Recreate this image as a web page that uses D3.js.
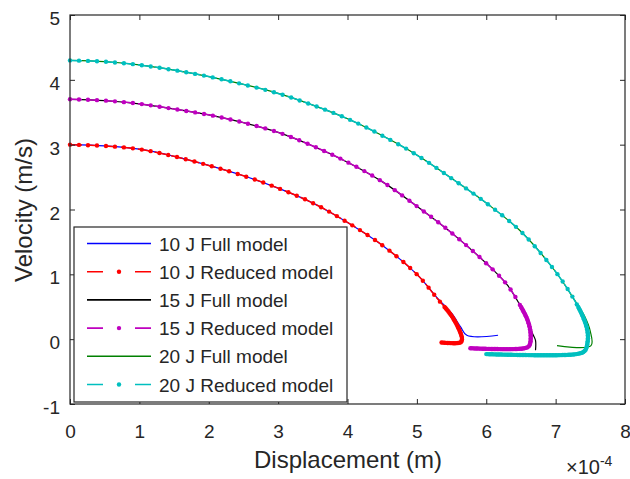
<!DOCTYPE html>
<html>
<head>
<meta charset="utf-8">
<script src="https://cdn.jsdelivr.net/npm/d3@7"></script>
<style>
  body { margin: 0; background: #fff; }
  svg { display: block; font-family: "Liberation Sans", Arial, Helvetica, sans-serif; }
</style>
</head>
<body>
<div id="chart"></div>
<script>
// displacement in units of 1e-4 m, velocity in m/s
var disp10Full = [0, 0.5, 1.0, 1.5, 2.0, 2.5, 3.0, 3.5, 4.0, 4.5, 5.0, 5.3, 5.5, 5.63, 5.72, 6.17];
var vel10Full  = [3.00, 2.98, 2.93, 2.82, 2.68, 2.52, 2.33, 2.10, 1.80, 1.45, 1.00, 0.63, 0.40, 0.19, 0.06, 0.06];

var disp10Red = [0, 0.5, 1.0, 1.5, 2.0, 2.5, 3.0, 3.5, 4.0, 4.5, 5.0, 5.3, 5.5, 5.62, 5.65, 5.63, 5.35];
var vel10Red  = [3.00, 2.98, 2.93, 2.82, 2.68, 2.52, 2.33, 2.10, 1.80, 1.45, 1.00, 0.62, 0.36, 0.12, 0.0, -0.05, -0.05];

var disp15Full = [0, 0.5, 1.0, 1.5, 2.0, 2.5, 3.0, 3.5, 4.0, 4.5, 5.0, 5.5, 6.0, 6.3, 6.5, 6.6, 6.67, 6.71, 6.71];
var vel15Full  = [3.70, 3.68, 3.63, 3.55, 3.46, 3.34, 3.19, 2.98, 2.73, 2.43, 2.05, 1.64, 1.17, 0.84, 0.50, 0.28, 0.08, -0.02, -0.17];

var disp15Red = [0, 0.5, 1.0, 1.5, 2.0, 2.5, 3.0, 3.5, 4.0, 4.5, 5.0, 5.5, 6.0, 6.3, 6.5, 6.6, 6.64, 6.62, 6.55, 5.77];
var vel15Red  = [3.70, 3.68, 3.63, 3.55, 3.46, 3.34, 3.19, 2.98, 2.73, 2.43, 2.05, 1.64, 1.17, 0.84, 0.50, 0.28, 0.08, -0.10, -0.14, -0.14];

var disp20Full = [0, 0.5, 1.0, 1.5, 2.0, 2.5, 3.0, 3.5, 4.0, 4.5, 5.0, 5.5, 6.0, 6.5, 7.0, 7.25, 7.42, 7.50, 7.51, 7.02];
var vel20Full  = [4.30, 4.28, 4.23, 4.15, 4.05, 3.93, 3.79, 3.61, 3.40, 3.14, 2.84, 2.48, 2.10, 1.66, 1.04, 0.64, 0.35, 0.12, -0.10, -0.10];

var disp20Red = [0, 0.5, 1.0, 1.5, 2.0, 2.5, 3.0, 3.5, 4.0, 4.5, 5.0, 5.5, 6.0, 6.5, 7.0, 7.25, 7.4, 7.46, 7.46, 7.42, 7.3, 5.98];
var vel20Red  = [4.30, 4.28, 4.23, 4.15, 4.05, 3.93, 3.79, 3.61, 3.40, 3.14, 2.84, 2.48, 2.10, 1.66, 1.04, 0.64, 0.33, 0.12, -0.05, -0.18, -0.23, -0.23];

var seriesNames = ["10 J Full model", "10 J Reduced model", "15 J Full model",
                   "15 J Reduced model", "20 J Full model", "20 J Reduced model"];
var seriesColors = ["#0000ff", "#ff0000", "#000000", "#bf00bf", "#008000", "#00bfbf"];
var xTicks = [0, 1, 2, 3, 4, 5, 6, 7, 8];
var yTicks = [-1, 0, 1, 2, 3, 4, 5];

var series = [
  { x: disp10Full, v: vel10Full, reduced: false },
  { x: disp10Red,  v: vel10Red,  reduced: true },
  { x: disp15Full, v: vel15Full, reduced: false },
  { x: disp15Red,  v: vel15Red,  reduced: true },
  { x: disp20Full, v: vel20Full, reduced: false },
  { x: disp20Red,  v: vel20Red,  reduced: true }
];

var width = 630, height = 479;
var axisColor = "#262626";

var svg = d3.select("#chart").append("svg")
  .attr("width", width)
  .attr("height", height);

svg.append("rect").attr("width", width).attr("height", height).attr("fill", "#fff");

var x = d3.scaleLinear().domain([0, 8]).range([70, 625]);
var y = d3.scaleLinear().domain([-1, 5]).range([404, 15]);

// curves
var line = d3.line()
  .x(d => x(d[0]))
  .y(d => y(d[1]))
  .curve(d3.curveCatmullRom.alpha(0.5));

series.forEach(function(s, i) {
  var pts = s.x.map((d, j) => [d, s.v[j]]);
  var path = svg.append("path")
    .datum(pts)
    .attr("d", line)
    .attr("fill", "none")
    .attr("stroke", seriesColors[i])
    .attr("stroke-width", s.reduced ? 1.5 : 1.2)
    .attr("stroke-dasharray", s.reduced ? "12,5" : null);

  if (s.reduced) {
    // dot markers along the path, packed tightly where velocity is low
    var node = path.node();
    var L = node.getTotalLength();
    var marks = [node.getPointAtLength(0)];
    var last = 0;
    for (var d = 0.5; d <= L; d += 0.5) {
      var p = node.getPointAtLength(d);
      var step = y.invert(p.y) > 0.5 ? 9 : 1.5;
      if (d - last >= step) {
        marks.push(p);
        last = d;
      }
    }
    svg.append("g")
      .selectAll("circle")
      .data(marks)
      .join("circle")
        .attr("cx", d => d.x)
        .attr("cy", d => d.y)
        .attr("r", 2.2)
        .attr("fill", seriesColors[i]);
  }
});

// axes (ticks point inward, box on)
function styleAxis(g) {
  g.select(".domain").remove();
  g.selectAll(".tick line").attr("stroke", axisColor);
  g.selectAll(".tick text").attr("fill", axisColor).attr("font-size", 19);
}

var plainNum = d => String(d);

svg.append("g")
  .attr("transform", "translate(0," + y(-1) + ")")
  .call(d3.axisBottom(x).tickValues(xTicks).tickSize(-5).tickPadding(21).tickFormat(plainNum))
  .call(styleAxis);

svg.append("g")
  .attr("transform", "translate(0," + y(5) + ")")
  .call(d3.axisTop(x).tickValues(xTicks).tickSize(-5).tickFormat(""))
  .call(styleAxis);

svg.append("g")
  .attr("transform", "translate(" + x(0) + ",0)")
  .call(d3.axisLeft(y).tickValues(yTicks).tickSize(-5).tickPadding(10).tickFormat(plainNum))
  .call(styleAxis)
  .call(g => g.selectAll(".tick text").attr("dy", "0.5em"));

svg.append("g")
  .attr("transform", "translate(" + x(8) + ",0)")
  .call(d3.axisRight(y).tickValues(yTicks).tickSize(-5).tickFormat(""))
  .call(styleAxis);

svg.append("rect")
  .attr("x", x(0))
  .attr("y", y(5))
  .attr("width", x(8) - x(0))
  .attr("height", y(-1) - y(5))
  .attr("fill", "none")
  .attr("stroke", axisColor)
  .attr("stroke-width", 1.2);

// axis labels
svg.append("text")
  .attr("x", 348)
  .attr("y", 468)
  .attr("text-anchor", "middle")
  .attr("font-size", 24)
  .attr("fill", axisColor)
  .text("Displacement (m)");

svg.append("text")
  .attr("transform", "translate(32,210) rotate(-90)")
  .attr("text-anchor", "middle")
  .attr("font-size", 24)
  .attr("fill", axisColor)
  .text("Velocity (m/s)");

var expo = svg.append("text")
  .attr("x", 566)
  .attr("y", 474)
  .attr("font-size", 20)
  .attr("fill", axisColor);
expo.append("tspan").text("\u00d710");
expo.append("tspan").attr("font-size", 14).attr("dy", -8).text("-4");

// legend
var legend = svg.append("g");
legend.append("rect")
  .attr("x", 74)
  .attr("y", 227)
  .attr("width", 273)
  .attr("height", 175)
  .attr("fill", "#fff")
  .attr("stroke", axisColor)
  .attr("stroke-width", 1.2);

var rowY = d3.scaleLinear().domain([0, 5]).range([243.5, 384.5]);

seriesNames.forEach(function(name, i) {
  var yy = rowY(i);
  var s = series[i];
  legend.append("line")
    .attr("x1", 87).attr("x2", 151)
    .attr("y1", yy).attr("y2", yy)
    .attr("stroke", seriesColors[i])
    .attr("stroke-width", 1.6)
    .attr("stroke-dasharray", s.reduced ? "16,32" : null);
  if (s.reduced) {
    legend.append("circle")
      .attr("cx", 119).attr("cy", yy).attr("r", 2.2)
      .attr("fill", seriesColors[i]);
  }
  legend.append("text")
    .attr("x", 159)
    .attr("y", yy + 7)
    .attr("font-size", 19)
    .attr("fill", axisColor)
    .text(name);
});
</script>
</body>
</html>
